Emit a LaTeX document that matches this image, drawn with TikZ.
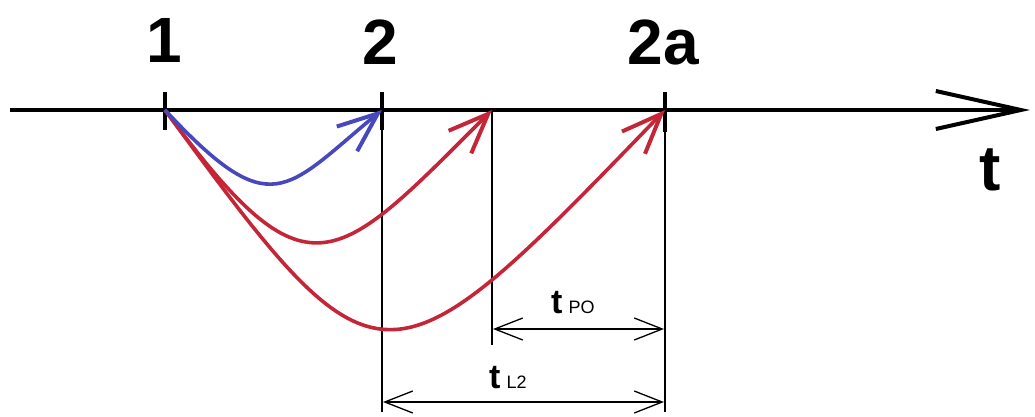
\documentclass[tikz,border=0pt]{standalone}
\usepackage{fontspec}
\setmainfont{Liberation Sans}
\usetikzlibrary{arrows.meta}
\definecolor{cblue}{RGB}{72,72,190}
\definecolor{cred}{RGB}{196,38,56}
\tikzset{
  big/.style={font=\fontsize{64}{64}\selectfont\bfseries, inner sep=0pt},
  curvetip/.style={-{Straight Barb[length=40pt,width=32pt,line width=4pt]}},
  curve/.style={line width=3.6pt, curvetip},
  thin/.style={line width=1.2pt},
  tick/.style={line width=4pt},
  dim/.style={line width=1.3pt, {Straight Barb[length=28pt,width=22pt,line width=1.3pt]}-{Straight Barb[length=28pt,width=22pt,line width=1.3pt]}},
  lbl/.style={inner sep=0pt, anchor=base west}
}
\begin{document}
\begin{tikzpicture}[x=1pt,y=-1pt]
\useasboundingbox (0,0) rectangle (1035,417);
% axis
\coordinate (a0) at (10,110);
\coordinate (a1) at (1030,110);
\draw[line width=4.5pt, -{Straight Barb[length=85pt,width=38pt,line width=4pt]}] (a0) -- (a1);
% points
\coordinate (p1) at (165,110);
\coordinate (p2) at (382,110);
\coordinate (pm) at (492,110);
\coordinate (p2a) at (665,110);
% ticks
\draw[tick] (165,92) -- (165,130);
\draw[tick] (382,92) -- (382,130);
\draw[tick] (665,92) -- (665,132);
% thin verticals
\coordinate (v2b) at (382,412);
\coordinate (vmb) at (492,345);
\coordinate (v2ab) at (665,412);
\draw[thin] (p2) -- (v2b);
\draw[thin] (pm) -- (vmb);
\draw[thin] (p2a) -- (v2ab);
% labels
\node[big] (l1) at (164,40) {1};
\node[big] (l2) at (380,42) {2};
\node[big] (l2a) at (663,42) {2a};
\node[big] (lt) at (990,170) {t};
% curves
\draw[curve, cred] (p1) .. controls (308,304) and (334,268) .. (pm);
\draw[curve, cred] (p1) .. controls (380,404) and (385,400) .. (p2a);
\draw[curve, cblue] (p1) .. controls (272,225) and (285,190) .. (p2);
% dimension lines
\coordinate (d1a) at (493,329);
\coordinate (d1b) at (664,329);
\coordinate (d2a) at (383,402);
\coordinate (d2b) at (664,402);
\draw[dim] (d1a) -- (d1b);
\draw[dim] (d2a) -- (d2b);
\node[lbl] (tpo) at (551,313) {{\fontsize{34}{34}\selectfont\bfseries t}\hspace{6pt}{\fontsize{18}{18}\selectfont PO}};
\node[lbl] (tl2) at (489,388) {{\fontsize{34}{34}\selectfont\bfseries t}\hspace{6pt}{\fontsize{18}{18}\selectfont L2}};
\end{tikzpicture}
\end{document}
